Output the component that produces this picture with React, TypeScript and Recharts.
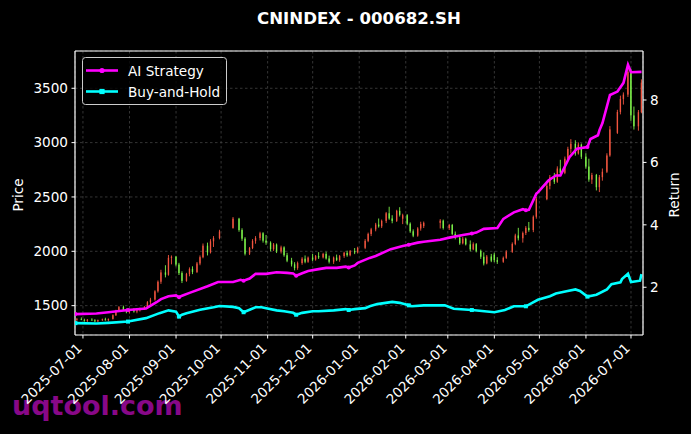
import { Bar, CartesianGrid, ComposedChart, Line, ReferenceLine, XAxis, YAxis } from 'recharts'

// date, open, high, low, close
const candles: [string, number, number, number, number][] = [
  ['2025-06-27', 1372, 1386, 1360, 1378], ['2025-06-30', 1378, 1392, 1366, 1370],
  ['2025-07-02', 1370, 1380, 1352, 1360], ['2025-07-04', 1360, 1377, 1350, 1371],
  ['2025-07-07', 1371, 1384, 1361, 1366], ['2025-07-09', 1366, 1376, 1348, 1356],
  ['2025-07-11', 1356, 1372, 1347, 1367], ['2025-07-14', 1367, 1381, 1359, 1375],
  ['2025-07-16', 1375, 1389, 1362, 1366], ['2025-07-18', 1366, 1382, 1356, 1378],
  ['2025-07-21', 1378, 1420, 1372, 1412], ['2025-07-23', 1412, 1462, 1405, 1452],
  ['2025-07-25', 1452, 1496, 1444, 1486], ['2025-07-28', 1486, 1500, 1452, 1460],
  ['2025-07-30', 1460, 1474, 1430, 1440], ['2025-08-01', 1440, 1470, 1428, 1462],
  ['2025-08-04', 1462, 1476, 1436, 1446], ['2025-08-06', 1446, 1468, 1430, 1458],
  ['2025-08-08', 1458, 1482, 1446, 1474], ['2025-08-11', 1474, 1496, 1460, 1490],
  ['2025-08-13', 1490, 1542, 1480, 1532], ['2025-08-15', 1532, 1572, 1510, 1556],
  ['2025-08-18', 1556, 1642, 1546, 1632], ['2025-08-20', 1632, 1732, 1620, 1720],
  ['2025-08-22', 1720, 1830, 1700, 1806], ['2025-08-25', 1806, 1872, 1760, 1784],
  ['2025-08-27', 1784, 1966, 1776, 1940], ['2025-08-29', 1940, 1962, 1880, 1950],
  ['2025-09-01', 1950, 1958, 1862, 1878], ['2025-09-03', 1878, 1894, 1782, 1800],
  ['2025-09-05', 1800, 1816, 1708, 1728], ['2025-09-08', 1728, 1802, 1720, 1792],
  ['2025-09-10', 1792, 1852, 1770, 1838], ['2025-09-12', 1838, 1862, 1790, 1810],
  ['2025-09-15', 1810, 1902, 1800, 1888], ['2025-09-17', 1888, 1962, 1872, 1946],
  ['2025-09-19', 1946, 2072, 1936, 2052], ['2025-09-22', 2052, 2080, 1962, 1990],
  ['2025-09-24', 1990, 2112, 1980, 2092], ['2025-09-26', 2092, 2140, 2040, 2122],
  ['2025-09-30', 2122, 2198, 2110, 2182], ['2025-10-09', 2215, 2315, 2208, 2300],
  ['2025-10-13', 2300, 2308, 2180, 2196], ['2025-10-15', 2196, 2212, 2096, 2116],
  ['2025-10-17', 2116, 2130, 1962, 1978], ['2025-10-20', 1978, 2040, 1966, 2030],
  ['2025-10-22', 2030, 2112, 2020, 2096], ['2025-10-24', 2096, 2140, 2070, 2122],
  ['2025-10-27', 2122, 2180, 2100, 2166], ['2025-10-29', 2166, 2176, 2080, 2098],
  ['2025-10-31', 2098, 2150, 2060, 2080], ['2025-11-03', 2080, 2092, 2000, 2020],
  ['2025-11-05', 2020, 2076, 2004, 2062], ['2025-11-07', 2062, 2072, 1984, 2000],
  ['2025-11-10', 2000, 2052, 1980, 2036], ['2025-11-12', 2036, 2046, 1950, 1964],
  ['2025-11-14', 1964, 1986, 1900, 1914], ['2025-11-17', 1914, 1940, 1860, 1880],
  ['2025-11-19', 1880, 1900, 1824, 1846], ['2025-11-21', 1846, 1906, 1830, 1892],
  ['2025-11-24', 1892, 1946, 1876, 1932], ['2025-11-26', 1932, 1962, 1890, 1904],
  ['2025-11-28', 1904, 1952, 1894, 1942], ['2025-12-01', 1942, 1976, 1910, 1924],
  ['2025-12-03', 1924, 1966, 1914, 1956], ['2025-12-05', 1956, 1992, 1930, 1944],
  ['2025-12-08', 1944, 1986, 1934, 1976], ['2025-12-10', 1976, 1996, 1924, 1934],
  ['2025-12-12', 1934, 1960, 1888, 1904], ['2025-12-15', 1904, 1952, 1884, 1942],
  ['2025-12-17', 1942, 1970, 1910, 1920], ['2025-12-19', 1920, 1966, 1904, 1956],
  ['2025-12-22', 1956, 1996, 1940, 1986], ['2025-12-24', 1986, 2006, 1950, 1964],
  ['2025-12-26', 1964, 2012, 1954, 2002], ['2025-12-29', 2002, 2030, 1974, 1990],
  ['2025-12-31', 1990, 2042, 1980, 2032], ['2026-01-05', 2032, 2112, 2020, 2096],
  ['2026-01-07', 2096, 2172, 2084, 2160], ['2026-01-09', 2160, 2216, 2140, 2202],
  ['2026-01-12', 2202, 2262, 2184, 2246], ['2026-01-14', 2246, 2302, 2218, 2230],
  ['2026-01-16', 2230, 2292, 2214, 2280], ['2026-01-19', 2280, 2362, 2260, 2350],
  ['2026-01-21', 2350, 2410, 2290, 2302], ['2026-01-23', 2302, 2332, 2258, 2280],
  ['2026-01-26', 2280, 2382, 2270, 2372], ['2026-01-28', 2372, 2406, 2320, 2336],
  ['2026-01-30', 2300, 2346, 2250, 2332], ['2026-02-02', 2332, 2342, 2240, 2254],
  ['2026-02-04', 2254, 2266, 2170, 2184], ['2026-02-06', 2184, 2202, 2130, 2144],
  ['2026-02-09', 2144, 2222, 2134, 2210], ['2026-02-11', 2210, 2272, 2190, 2250],
  ['2026-02-13', 2232, 2274, 2214, 2262], ['2026-02-24', 2262, 2296, 2210, 2282],
  ['2026-02-26', 2282, 2292, 2200, 2214], ['2026-03-02', 2214, 2252, 2196, 2242],
  ['2026-03-04', 2242, 2252, 2150, 2160], ['2026-03-06', 2160, 2182, 2110, 2126],
  ['2026-03-09', 2126, 2142, 2060, 2074], ['2026-03-11', 2074, 2132, 2064, 2116],
  ['2026-03-13', 2116, 2126, 2054, 2064], ['2026-03-16', 2064, 2100, 2000, 2018],
  ['2026-03-18', 2018, 2082, 2010, 2066], ['2026-03-20', 2066, 2076, 1990, 2004],
  ['2026-03-23', 2004, 2016, 1930, 1950], ['2026-03-25', 1950, 1990, 1870, 1888],
  ['2026-03-27', 1888, 1966, 1880, 1952], ['2026-03-30', 1952, 1976, 1900, 1914],
  ['2026-04-01', 1970, 1986, 1900, 1918], ['2026-04-03', 1918, 1946, 1884, 1904],
  ['2026-04-07', 1904, 1952, 1894, 1940], ['2026-04-09', 1940, 2010, 1930, 1996],
  ['2026-04-13', 1996, 2082, 1986, 2068], ['2026-04-15', 2068, 2162, 2056, 2146],
  ['2026-04-17', 2146, 2216, 2100, 2120], ['2026-04-20', 2120, 2182, 2080, 2168],
  ['2026-04-22', 2168, 2232, 2150, 2216], ['2026-04-24', 2216, 2270, 2180, 2196],
  ['2026-04-27', 2196, 2330, 2176, 2318], ['2026-04-29', 2318, 2500, 2300, 2480],
  ['2026-05-06', 2480, 2620, 2470, 2602], ['2026-05-08', 2602, 2702, 2570, 2682],
  ['2026-05-11', 2682, 2722, 2620, 2640], ['2026-05-13', 2640, 2782, 2630, 2762],
  ['2026-05-15', 2762, 2842, 2700, 2722], ['2026-05-18', 2722, 2872, 2710, 2852],
  ['2026-05-20', 2852, 2962, 2830, 2942], ['2026-05-22', 2942, 3032, 2900, 2990],
  ['2026-05-25', 2990, 3022, 2880, 2900], ['2026-05-27', 2900, 3002, 2890, 2982],
  ['2026-05-29', 2982, 2992, 2850, 2870], ['2026-06-01', 2870, 2902, 2760, 2780],
  ['2026-06-03', 2780, 2852, 2640, 2660], ['2026-06-05', 2660, 2722, 2620, 2702],
  ['2026-06-08', 2702, 2712, 2560, 2590], ['2026-06-10', 2590, 2702, 2545, 2682],
  ['2026-06-12', 2682, 2762, 2650, 2732], ['2026-06-15', 2732, 2902, 2720, 2882],
  ['2026-06-17', 2882, 3152, 2870, 3122], ['2026-06-22', 3090, 3302, 3080, 3282],
  ['2026-06-24', 3282, 3432, 3260, 3402], ['2026-06-26', 3402, 3462, 3350, 3442],
  ['2026-06-29', 3442, 3700, 3420, 3652], ['2026-07-01', 3652, 3680, 3200, 3250],
  ['2026-07-03', 3250, 3332, 3120, 3150], ['2026-07-06', 3150, 3300, 3110, 3280],
  ['2026-07-08', 3280, 3582, 3270, 3552],
]

const aiStrategy: [string, number][] = [
  ['2025-06-26', 1.14], ['2025-07-10', 1.16], ['2025-07-18', 1.2], ['2025-07-31', 1.27],
  ['2025-08-12', 1.32], ['2025-08-19', 1.52], ['2025-08-22', 1.62], ['2025-08-27', 1.71],
  ['2025-09-01', 1.74], ['2025-09-03', 1.68], ['2025-09-05', 1.73], ['2025-09-10', 1.82],
  ['2025-09-22', 2.03], ['2025-09-29', 2.17], ['2025-10-09', 2.17], ['2025-10-14', 2.24],
  ['2025-10-16', 2.21], ['2025-10-20', 2.28], ['2025-10-24', 2.43], ['2025-10-31', 2.43],
  ['2025-11-07', 2.48], ['2025-11-14', 2.46], ['2025-11-18', 2.44], ['2025-11-20', 2.37],
  ['2025-11-24', 2.45], ['2025-11-28', 2.52], ['2025-12-05', 2.58], ['2025-12-10', 2.62],
  ['2025-12-17', 2.62], ['2025-12-23', 2.66], ['2025-12-25', 2.63], ['2025-12-29', 2.7],
  ['2025-12-31', 2.78], ['2026-01-08', 2.94], ['2026-01-12', 3.0], ['2026-01-22', 3.22],
  ['2026-01-30', 3.32], ['2026-02-03', 3.36], ['2026-02-09', 3.43], ['2026-02-13', 3.46],
  ['2026-02-24', 3.52], ['2026-03-02', 3.59], ['2026-03-12', 3.68], ['2026-03-17', 3.72],
  ['2026-03-20', 3.75], ['2026-03-25', 3.87], ['2026-04-03', 3.9], ['2026-04-07', 4.19],
  ['2026-04-14', 4.4], ['2026-04-20', 4.5], ['2026-04-22', 4.47], ['2026-04-24', 4.48],
  ['2026-04-29', 5.0], ['2026-04-30', 5.04], ['2026-05-07', 5.42], ['2026-05-12', 5.58],
  ['2026-05-15', 5.58], ['2026-05-21', 6.17], ['2026-05-26', 6.44], ['2026-06-02', 6.49],
  ['2026-06-04', 6.75], ['2026-06-09', 6.87], ['2026-06-10', 7.03], ['2026-06-12', 7.26],
  ['2026-06-17', 8.16], ['2026-06-22', 8.27], ['2026-06-26', 8.55], ['2026-06-29', 9.13],
  ['2026-07-01', 8.89], ['2026-07-08', 8.9],
]

const buyAndHold: [string, number][] = [
  ['2025-06-26', 0.85], ['2025-07-10', 0.84], ['2025-07-18', 0.86], ['2025-07-31', 0.9],
  ['2025-08-12', 1.01], ['2025-08-21', 1.17], ['2025-08-27', 1.26], ['2025-09-01', 1.22],
  ['2025-09-03', 1.06], ['2025-09-05', 1.12], ['2025-09-08', 1.17], ['2025-09-17', 1.28],
  ['2025-09-26', 1.36], ['2025-09-30', 1.4], ['2025-10-09', 1.37], ['2025-10-13', 1.33],
  ['2025-10-16', 1.2], ['2025-10-20', 1.28], ['2025-10-24', 1.36], ['2025-10-28', 1.36],
  ['2025-10-31', 1.33], ['2025-11-07', 1.26], ['2025-11-12', 1.23], ['2025-11-18', 1.18],
  ['2025-11-20', 1.12], ['2025-11-24', 1.18], ['2025-12-01', 1.23], ['2025-12-05', 1.23],
  ['2025-12-15', 1.26], ['2025-12-23', 1.3], ['2025-12-25', 1.27], ['2025-12-29', 1.3],
  ['2026-01-05', 1.33], ['2026-01-08', 1.39], ['2026-01-13', 1.46], ['2026-01-23', 1.53],
  ['2026-01-28', 1.5], ['2026-02-03', 1.42], ['2026-02-05', 1.39], ['2026-02-13', 1.42],
  ['2026-02-27', 1.42], ['2026-03-05', 1.31], ['2026-03-17', 1.27], ['2026-04-01', 1.2],
  ['2026-04-08', 1.27], ['2026-04-14', 1.39], ['2026-04-22', 1.39], ['2026-04-30', 1.6],
  ['2026-05-08', 1.71], ['2026-05-12', 1.8], ['2026-05-19', 1.87], ['2026-05-25', 1.93],
  ['2026-05-28', 1.88], ['2026-06-02', 1.7], ['2026-06-08', 1.76], ['2026-06-15', 1.93],
  ['2026-06-18', 2.1], ['2026-06-24', 2.16], ['2026-06-25', 2.26], ['2026-06-29', 2.43],
  ['2026-07-01', 2.17], ['2026-07-07', 2.21], ['2026-07-08', 2.42],
]

const markerDates = [
  '2025-06-26', '2025-07-31', '2025-09-03', '2025-10-16', '2025-11-20',
  '2025-12-25', '2026-02-03', '2026-03-17', '2026-04-22', '2026-06-02',
]

const monthTicks = [
  '2025-07-01', '2025-08-01', '2025-09-01', '2025-10-01', '2025-11-01', '2025-12-01', '2026-01-01',
  '2026-02-01', '2026-03-01', '2026-04-01', '2026-05-01', '2026-06-01', '2026-07-01',
]
const priceTicks = [1500, 2000, 2500, 3000, 3500]
const returnTicks = [2, 4, 6, 8]

const W = 691
const H = 434
const FONT = 'DejaVu Sans'
const UP = '#f2553f'
const DOWN = '#7df24a'
const AI_COLOR = '#ff00ff'
const BH_COLOR = '#00ffff'

const ts = (s: string) => Date.parse(s + 'T00:00:00Z')
const fmtDate = (v: number) => new Date(v).toISOString().slice(0, 10)
const marks = new Set(markerDates)

const candleData = candles.map(([d, o, h, l, c]) => ({ t: ts(d), o, h, l, c, range: [l, h] }))
const aiData = aiStrategy.map(([d, v]) => ({ t: ts(d), v, m: marks.has(d) }))
const bhData = buyAndHold.map(([d, v]) => ({ t: ts(d), v, m: marks.has(d) }))

const xDomain = [Date.parse('2025-06-25T17:00:00Z'), Date.parse('2026-07-09T00:00:00Z')]
const priceDomain = [1230, 3843]
const returnDomain = [0.47, 9.57]

function Candle(props: any) {
  const { x, y, width, height, payload } = props
  if (x == null || y == null || !payload) return null
  const top = Math.min(y, y + height)
  const bot = Math.max(y, y + height)
  const { o, h, l, c } = payload
  const py = (v: number) => top + ((h - v) / (h - l || 1)) * (bot - top)
  const color = c >= o ? UP : DOWN
  const cx = x + width / 2
  const b0 = py(Math.max(o, c))
  const b1 = py(Math.min(o, c))
  return (
    <g>
      <line x1={cx} x2={cx} y1={top} y2={bot} stroke={color} strokeWidth={0.9} />
      <rect x={x} y={b0} width={width} height={Math.max(b1 - b0, 0.8)} fill={color} />
    </g>
  )
}

function DateTick({ x, y, payload }: any) {
  const by = y + 7
  return (
    <text x={x} y={by} transform={`rotate(-45 ${x} ${by})`} textAnchor="end" fill="#fff" fontSize={13.6} fontFamily={FONT}>
      {fmtDate(payload.value)}
    </text>
  )
}

// markers are small, mostly hidden inside the thick line
const aiDot = (p: any) =>
  p.payload?.m ? <circle key={`a${p.index}`} cx={p.cx} cy={p.cy} r={2} fill={AI_COLOR} /> : <g key={`a${p.index}`} />
const bhDot = (p: any) =>
  p.payload?.m ? <rect key={`b${p.index}`} x={p.cx - 2} y={p.cy - 2} width={4} height={4} fill={BH_COLOR} /> : <g key={`b${p.index}`} />

const tickStyle = { fill: '#fff', fontSize: 13.6, fontFamily: FONT }

export default function App() {
  return (
    <div style={{ position: 'fixed', left: 0, top: 0, width: W, height: H, background: '#000', overflow: 'hidden' }}>
      <svg width={W} height={H} style={{ position: 'absolute', left: 0, top: 0 }}>
        <text x={12} y={415} fontSize={27} fontWeight="bold" fontFamily={FONT} fill="#880888">uqtool.com</text>
      </svg>
      <div style={{ position: 'absolute', left: 0, top: 0 }}>
        <ComposedChart width={W} height={H} data={candleData} margin={{ top: 51, right: 18, bottom: 9, left: 15 }}>
          <CartesianGrid yAxisId="left" stroke="#4a4a4a" strokeDasharray="2.5 2.5" strokeWidth={0.7} />
          <XAxis
            dataKey="t"
            type="number"
            scale="linear"
            domain={xDomain}
            ticks={monthTicks.map(ts)}
            interval={0}
            allowDataOverflow
            height={90}
            tickSize={3.5}
            tickMargin={3.5}
            tick={<DateTick />}
            tickLine={{ stroke: '#fff' }}
            axisLine={{ stroke: '#fff', strokeWidth: 1.2 }}
          />
          <YAxis
            yAxisId="left"
            type="number"
            domain={priceDomain}
            ticks={priceTicks}
            interval={0}
            allowDataOverflow
            width={60}
            tickSize={3.5}
            tickMargin={3.5}
            tick={tickStyle}
            tickLine={{ stroke: '#fff' }}
            axisLine={{ stroke: '#fff', strokeWidth: 1.2 }}
          />
          <YAxis
            yAxisId="right"
            orientation="right"
            type="number"
            domain={returnDomain}
            ticks={returnTicks}
            interval={0}
            allowDataOverflow
            width={30}
            tickSize={3.5}
            tickMargin={3.5}
            tick={tickStyle}
            tickLine={{ stroke: '#fff' }}
            axisLine={{ stroke: '#fff', strokeWidth: 1.2 }}
          />
          <Bar yAxisId="left" dataKey="range" barSize={2.5} shape={<Candle />} isAnimationActive={false} />
          <Line
            yAxisId="right"
            data={aiData}
            dataKey="v"
            type="linear"
            stroke={AI_COLOR}
            strokeWidth={2.6}
            dot={aiDot}
            activeDot={false}
            isAnimationActive={false}
          />
          <Line
            yAxisId="right"
            data={bhData}
            dataKey="v"
            type="linear"
            stroke={BH_COLOR}
            strokeWidth={2.6}
            dot={bhDot}
            activeDot={false}
            isAnimationActive={false}
          />
          <ReferenceLine yAxisId="left" y={priceDomain[1]} stroke="#fff" strokeWidth={1.2} ifOverflow="visible" />
        </ComposedChart>
      </div>
      <svg width={W} height={H} style={{ position: 'absolute', left: 0, top: 0, pointerEvents: 'none' }}>
        <text x={359} y={24} textAnchor="middle" fontSize={16.6} fontWeight="bold" fontFamily={FONT} fill="#fff">
          CNINDEX - 000682.SH
        </text>
        <text x={17.5} y={195} transform="rotate(-90 17.5 195)" textAnchor="middle" dominantBaseline="central" fontSize={13.6} fontFamily={FONT} fill="#fff">
          Price
        </text>
        <text x={673.5} y={195} transform="rotate(-90 673.5 195)" textAnchor="middle" dominantBaseline="central" fontSize={13.6} fontFamily={FONT} fill="#fff">
          Return
        </text>
        <rect x={82.5} y={57.5} width={144} height={47} rx={3} fill="rgba(0,0,0,0.8)" stroke="#cccccc" strokeWidth={1} />
        <line x1={86} x2={118} y1={70.5} y2={70.5} stroke={AI_COLOR} strokeWidth={2.6} />
        <circle cx={102} cy={70.5} r={2.6} fill={AI_COLOR} />
        <text x={128} y={75.5} fontSize={13.6} fontFamily={FONT} fill="#fff">AI Strategy</text>
        <line x1={86} x2={118} y1={91.5} y2={91.5} stroke={BH_COLOR} strokeWidth={2.6} />
        <rect x={99.4} y={88.9} width={5.2} height={5.2} fill={BH_COLOR} />
        <text x={128} y={96.5} fontSize={13.6} fontFamily={FONT} fill="#fff">Buy-and-Hold</text>
      </svg>
    </div>
  )
}
